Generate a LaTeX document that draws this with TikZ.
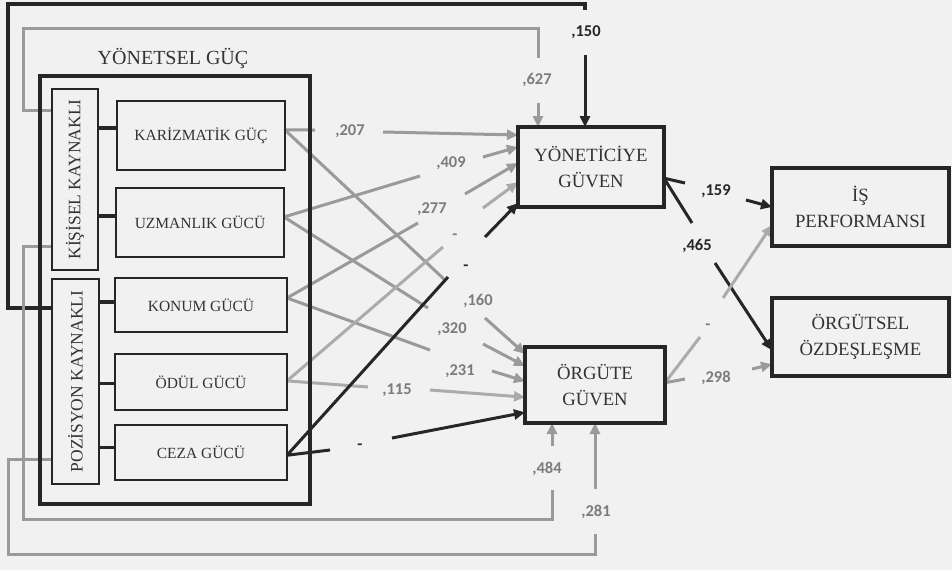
\documentclass[tikz,border=0pt]{standalone}
\usepackage{fontspec}
\setmainfont{Liberation Serif}
\newfontfamily\lblfont{Carlito}
\usetikzlibrary{arrows.meta,calc}
\definecolor{bg}{HTML}{F1F1F1}
\definecolor{ink}{HTML}{333333}
\definecolor{blk}{HTML}{262626}
\definecolor{gry}{HTML}{9A9A9A}
\definecolor{lgry}{HTML}{ABABAB}
\definecolor{gtxt}{HTML}{7C7C7C}
\pgfdeclarelayer{back}
\pgfdeclarelayer{mid}
\pgfsetlayers{back,mid,main}
\tikzset{
  box/.style={draw=blk, line width=2pt, inner sep=0pt, outer sep=0pt, text=ink, align=center},
  bigbox/.style={box, line width=4pt},
  pbox/.style={box, font=\fontsize{15.5}{18}\selectfont},
  gbox/.style={bigbox, font=\fontsize{18.7}{26}\selectfont},
  sidebox/.style={box, rotate=90, font=\fontsize{17.5}{20}\selectfont},
  glab/.style={font=\lblfont\bfseries\fontsize{16.5}{18}\selectfont, text=gtxt, inner sep=0pt},
  blab/.style={glab, text=blk},
  gline/.style={draw=gry, line width=3pt},
  lline/.style={draw=lgry, line width=3pt},
  bline/.style={draw=blk, line width=3pt},
  tip/.style={-{Triangle[length=11pt,width=10pt]}},
}
\begin{document}
\begin{tikzpicture}[x=1pt,y=-1pt]
\begin{pgfonlayer}{back}
\fill[bg] (0,0) rectangle (952,570);
\end{pgfonlayer}
\useasboundingbox (0,0) rectangle (952,570);

% main boxes
\node[bigbox, minimum width=270pt, minimum height=428pt] (yg) at (175,290) {};
\node[anchor=base, font=\fontsize{20}{24}\selectfont, text=ink] (ygt) at (173,64) {YÖNETSEL GÜÇ};
\node[sidebox, minimum width=181pt, minimum height=46pt] (kis) at (75,179.5) {KİŞİSEL KAYNAKLI};
\node[sidebox, minimum width=205pt, minimum height=47pt] (poz) at (75.5,381.5) {POZİSYON KAYNAKLI};
\node[pbox, minimum width=168pt, minimum height=69pt] (kar) at (201,135.5) {KARİZMATİK GÜÇ};
\node[pbox, minimum width=168pt, minimum height=69pt] (uzm) at (200,222.5) {UZMANLIK GÜCÜ};
\node[pbox, minimum width=172pt, minimum height=54pt] (kon) at (201,305) {KONUM GÜCÜ};
\node[pbox, minimum width=172pt, minimum height=56pt] (odu) at (201,382) {ÖDÜL GÜCÜ};
\node[pbox, minimum width=172pt, minimum height=55pt] (cez) at (201,452.5) {CEZA GÜCÜ};
\node[gbox, minimum width=146pt, minimum height=80pt] (yon) at (591,167) {YÖNETİCİYE\\GÜVEN};
\node[gbox, minimum width=140pt, minimum height=76pt] (org) at (595,385) {ÖRGÜTE\\GÜVEN};
\node[gbox, minimum width=177pt, minimum height=78pt] (isp) at (860.5,207) {İŞ\\PERFORMANSI};
\node[gbox, minimum width=177pt, minimum height=78pt] (ozd) at (860.5,337) {ÖRGÜTSEL\\ÖZDEŞLEŞME};

% anchor points
\coordinate (karR) at ($(kar.north east)!0.42!(kar.south east)$);
\coordinate (uzmR) at ($(uzm.north east)!0.42!(uzm.south east)$);
\coordinate (konR) at ($(kon.north east)!0.37!(kon.south east)$);
\coordinate (oduR) at ($(odu.north east)!0.48!(odu.south east)$);
\coordinate (cezR) at ($(cez.north east)!0.55!(cez.south east)$);
\coordinate (karL) at ($(kar.north west)!0.39!(kar.south west)$);
\coordinate (uzmL) at ($(uzm.north west)!0.41!(uzm.south west)$);
\coordinate (konL) at ($(kon.north west)!0.44!(kon.south west)$);
\coordinate (oduL) at ($(odu.north west)!0.52!(odu.south west)$);
\coordinate (cezL) at ($(cez.north west)!0.40!(cez.south west)$);
% rotated side boxes: local north edge is the visual left edge
\coordinate (kisT) at ($(kis.north east)!0.12!(kis.north west)$);
\coordinate (kisB) at ($(kis.north east)!0.87!(kis.north west)$);
\coordinate (pozT) at ($(poz.north east)!0.14!(poz.north west)$);
\coordinate (pozB) at ($(poz.north east)!0.88!(poz.north west)$);
\coordinate (yonR) at ($(yon.north east)!0.64!(yon.south east)$);
\coordinate (orgR) at ($(org.north east)!0.47!(org.south east)$);

% labels
\node[glab] (l207) at (350,131) {,207};
\node[glab] (l160) at (478,301) {,160};
\node[glab] (l409) at (451,163) {,409};
\node[glab] (l320) at (452,329) {,320};
\node[glab] (l277) at (432,209) {,277};
\node[glab] (l231) at (460,371) {,231};
\node[glab] (lod1) at (455,237) {-};
\node[glab] (l115) at (397,390) {,115};
\node[blab] (lce1) at (466,268) {-};
\node[blab] (lce2) at (360,447) {-};
\node[blab] (l159) at (716,191) {,159};
\node[blab] (l465) at (697,246) {,465};
\node[glab] (lor1) at (708,327) {-};
\node[glab] (l298) at (716,378) {,298};
\node[blab] (l150) at (586,32) {,150};
\node[glab] (l627) at (537,80) {,627};
\node[glab] (l484) at (547,469) {,484};
\node[glab] (l281) at (596,512) {,281};

% gap coordinates
\coordinate (k1a) at (315,130); \coordinate (k1b) at (383,132);
\coordinate (k2a) at (446,281); \coordinate (k2b) at (485,318);
\coordinate (u1a) at (420,176); \coordinate (u1b) at (483,157);
\coordinate (u2a) at (428,308); \coordinate (u2b) at (483,344);
\coordinate (n1a) at (418,223); \coordinate (n1b) at (465,194);
\coordinate (n2a) at (430,350); \coordinate (n2b) at (492,371);
\coordinate (d1a) at (443,247); \coordinate (d1b) at (483,208);
\coordinate (d2a) at (368,387); \coordinate (d2b) at (430,390);
\coordinate (c1a) at (448,277); \coordinate (c1b) at (485,237);
\coordinate (c2a) at (330,450); \coordinate (c2b) at (392,438);
\coordinate (r1a) at (685,183); \coordinate (r1b) at (746,200);
\coordinate (r2a) at (692,223); \coordinate (r2b) at (715,263);
\coordinate (r3a) at (700,337); \coordinate (r3b) at (723,298);
\coordinate (r4a) at (685,379); \coordinate (r4b) at (752,369);
\coordinate (bA) at (8,4); \coordinate (bB) at (585,10); \coordinate (bC) at (585,55);
\coordinate (gA) at (23,28); \coordinate (gB) at (538,58); \coordinate (gC) at (538,103);
\coordinate (hA) at (23,519); \coordinate (hB) at (552,490); \coordinate (hC) at (552,446);
\coordinate (iA) at (8,554); \coordinate (iB) at (595,534); \coordinate (iC) at (595,489);

\begin{pgfonlayer}{mid}
% stubs
\draw[blk, line width=4pt] (karL -| kis.south) -- (karL);
\draw[blk, line width=4pt] (uzmL -| kis.south) -- (uzmL);
\draw[blk, line width=4pt] (konL -| poz.south) -- (konL);
\draw[blk, line width=3pt] (oduL -| poz.south) -- (oduL);
\draw[blk, line width=3pt] (cezL -| poz.south) -- (cezL);

% feedback lines
\draw[bline, line width=4pt] (pozT) -| (bA) -| (bB);
\draw[bline, tip] (bC) -- (bC |- yon.north);
\draw[gline] (kisT) -| (gA) -| (gB);
\draw[gline, tip] (gC) -- (gC |- yon.north);
\draw[gline] (kisB) -| (hA) -| (hB);
\draw[gline, tip] (hC) -- (hC |- org.south);
\draw[gline] (pozB) -| (iA) -| (iB);
\draw[gline, tip] (iC) -- (iC |- org.south);

% power -> trust
\draw[gline] (karR) -- (k1a);
\draw[gline, tip] (k1b) -- ($(yon.north west)!0.10!(yon.south west)$);
\draw[gline] (karR) -- (k2a);
\draw[gline, tip] (k2b) -- ($(org.north west)!0.09!(org.south west)$);
\draw[gline] (uzmR) -- (u1a);
\draw[gline, tip] (u1b) -- ($(yon.north west)!0.25!(yon.south west)$);
\draw[gline] (uzmR) -- (u2a);
\draw[gline, tip] (u2b) -- ($(org.north west)!0.25!(org.south west)$);
\draw[gline] (konR) -- (n1a);
\draw[gline, tip] (n1b) -- ($(yon.north west)!0.45!(yon.south west)$);
\draw[gline] (konR) -- (n2a);
\draw[gline, tip] (n2b) -- ($(org.north west)!0.45!(org.south west)$);
\draw[lline] (oduR) -- (d1a);
\draw[lline, tip] (d1b) -- ($(yon.north west)!0.69!(yon.south west)$);
\draw[lline] (oduR) -- (d2a);
\draw[lline, tip] (d2b) -- ($(org.north west)!0.66!(org.south west)$);
\draw[bline] (cezR) -- (c1a);
\draw[bline, tip] (c1b) -- ($(yon.north west)!0.95!(yon.south west)$);
\draw[bline] (cezR) -- (c2a);
\draw[bline, tip] (c2b) -- ($(org.north west)!0.86!(org.south west)$);

% trust -> outcomes
\draw[bline] (yonR) -- (r1a);
\draw[bline, tip] (r1b) -- (isp.west);
\draw[bline] (yonR) -- (r2a);
\draw[bline, tip] (r2b) -- ($(ozd.north west)!0.67!(ozd.south west)$);
\draw[lline] (orgR) -- (r3a);
\draw[lline, tip] (r3b) -- ($(isp.north west)!0.73!(isp.south west)$);
\draw[gline] (orgR) -- (r4a);
\draw[gline, tip] (r4b) -- ($(ozd.north west)!0.85!(ozd.south west)$);
\end{pgfonlayer}
\end{tikzpicture}
\end{document}
